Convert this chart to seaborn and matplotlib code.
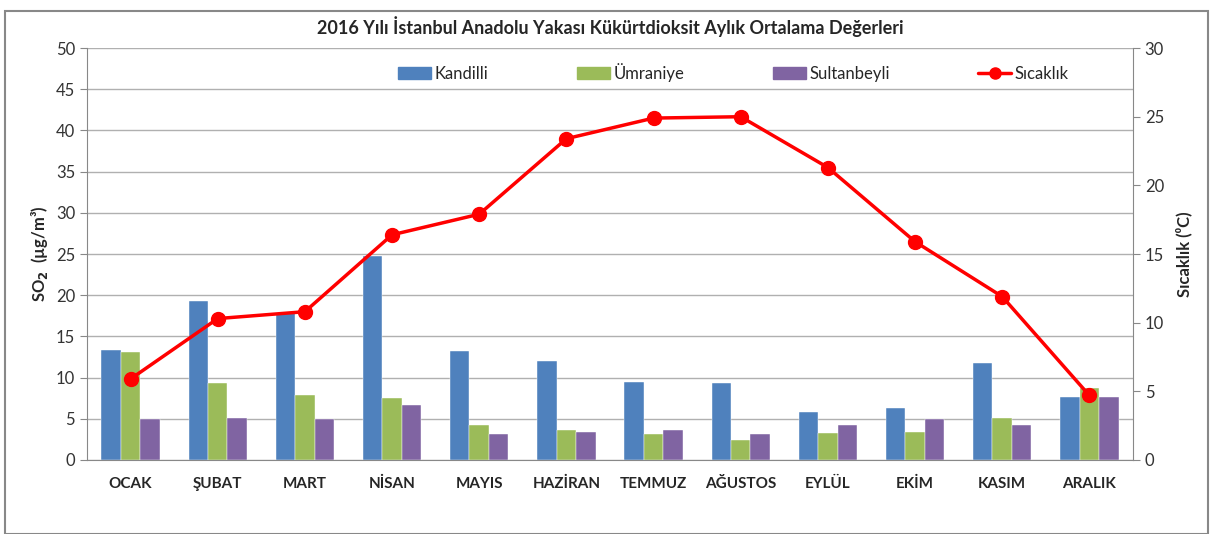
import pandas as pd
import numpy as np
import matplotlib.pyplot as plt
import seaborn as sns
from matplotlib.patches import Patch, Rectangle
from matplotlib.lines import Line2D

months = ['OCAK', 'ŞUBAT', 'MART', 'NİSAN', 'MAYIS', 'HAZİRAN',
          'TEMMUZ', 'AĞUSTOS', 'EYLÜL', 'EKİM', 'KASIM', 'ARALIK']
kandilli = [13.3, 19.3, 17.9, 24.7, 13.2, 12.0, 9.5, 9.4, 5.8, 6.3, 11.8, 7.7]
umraniye = [13.1, 9.4, 7.9, 7.5, 4.2, 3.6, 3.2, 2.4, 3.3, 3.4, 5.1, 8.7]
sultanbeyli = [5.0, 5.1, 5.0, 6.7, 3.2, 3.4, 3.7, 3.2, 4.2, 5.0, 4.2, 7.6]
sicaklik = [5.9, 10.3, 10.8, 16.4, 17.9, 23.4, 24.9, 25.0, 21.3, 15.9, 11.9, 4.7]

stations = ['Kandilli', 'Ümraniye', 'Sultanbeyli']
colors = ['#4F81BD', '#9BBB59', '#8064A2']

sns.set_style('white')
plt.rcParams['font.family'] = ['Lato', 'DejaVu Sans']

df = pd.DataFrame({'Ay': months, 'Kandilli': kandilli,
                   'Ümraniye': umraniye, 'Sultanbeyli': sultanbeyli})
long_df = df.melt(id_vars='Ay', var_name='İstasyon', value_name='SO2')

fig = plt.figure(figsize=(12.13, 5.34), dpi=100)
ax = fig.add_axes([0.0717, 0.1386, 0.8623, 0.7714])

sns.barplot(data=long_df, x='Ay', y='SO2', hue='İstasyon', hue_order=stations,
            palette=colors, width=0.67, saturation=1, ax=ax, legend=False,
            edgecolor='white', linewidth=0.3)

ax.set_ylim(0, 50)
ax.set_yticks(range(0, 51, 5))
ax.set_xlim(-0.5, len(months) - 0.5)
ax.yaxis.grid(True, color='#b0b0b0', linewidth=1)
ax.set_axisbelow(True)
for s in ['top', 'right']:
    ax.spines[s].set_visible(False)
ax.spines['left'].set_color('#888888')
ax.spines['bottom'].set_color('#888888')
ax.set_xlabel('')
ax.set_ylabel('SO$_\\mathbf{2}$  (µg/m³)', fontsize=12, fontweight='bold')
ax.tick_params(axis='y', labelsize=12, length=5, color='#888888', colors='#333333', direction='out')
ax.tick_params(axis='x', length=0, labelsize=11, pad=12)
for lbl in ax.get_xticklabels():
    lbl.set_fontweight('bold')
# kategori arası tick'ler (Excel tarzı)
ax.set_xticks(np.arange(-0.5, len(months), 1), minor=True)
ax.tick_params(axis='x', which='minor', length=5, color='#888888')

ax2 = ax.twinx()
ax2.plot(np.arange(len(months)), sicaklik, color='#FF0000', linewidth=2.5,
         marker='o', markersize=10, zorder=5)
ax2.set_ylim(0, 30)
ax2.set_yticks(range(0, 31, 5))
for s in ['top', 'left', 'bottom']:
    ax2.spines[s].set_visible(False)
ax2.spines['right'].set_color('#888888')
ax2.tick_params(axis='y', labelsize=12, length=5, color='#888888', colors='#333333', direction='out')
ax2.set_ylabel('Sıcaklık (⁰C)', fontsize=12, fontweight='bold', labelpad=8)

ax.set_title('2016 Yılı İstanbul Anadolu Yakası Kükürtdioksit Aylık Ortalama Değerleri',
             fontsize=13, fontweight='bold', pad=10)

handles = [Patch(color=c) for c in colors]
handles.append(Line2D([0], [0], color='#FF0000', linewidth=2.5, marker='o', markersize=8))
ax.legend(handles, stations + ['Sıcaklık'], loc='upper left', bbox_to_anchor=(0.283, 1.0),
          ncol=4, frameon=False, fontsize=12, columnspacing=5.3, handlelength=2.0,
          handletextpad=0.2)

fig.add_artist(Rectangle((5 / 1213, 0.0), 1203 / 1213, 1 - 11 / 534,
                         transform=fig.transFigure, fill=False,
                         edgecolor='#888888', linewidth=1.5))

plt.savefig('out.png', dpi=100)
